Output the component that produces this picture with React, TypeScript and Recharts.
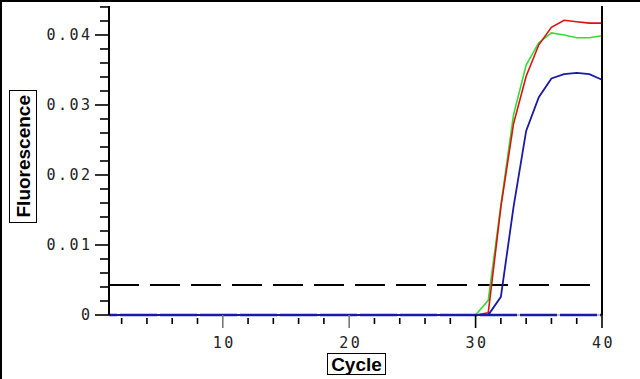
import React from 'react';
import { LineChart, Line, XAxis, YAxis, ReferenceLine } from 'recharts';

const cycles = [1, 2, 3, 4, 5, 6, 7, 8, 9, 10, 11, 12, 13, 14, 15, 16, 17, 18, 19, 20, 21, 22, 23, 24, 25, 26, 27, 28, 29, 30, 31, 32, 33, 34, 35, 36, 37, 38, 39, 40];
const redValues = [0, 0, 0, 0, 0, 0, 0, 0, 0, 0, 0, 0, 0, 0, 0, 0, 0, 0, 0, 0, 0, 0, 0, 0, 0, 0, 0, 0, 0, 0, 0.0003, 0.0154, 0.0273, 0.0341, 0.0386, 0.0411, 0.0421, 0.0419, 0.0417, 0.0417];
const greenValues = [0, 0, 0, 0, 0, 0, 0, 0, 0, 0, 0, 0, 0, 0, 0, 0, 0, 0, 0, 0, 0, 0, 0, 0, 0, 0, 0, 0, 0, 0, 0.0021, 0.0157, 0.0286, 0.0357, 0.0389, 0.0403, 0.04, 0.0396, 0.0396, 0.0399];
const blueValues = [0, 0, 0, 0, 0, 0, 0, 0, 0, 0, 0, 0, 0, 0, 0, 0, 0, 0, 0, 0, 0, 0, 0, 0, 0, 0, 0, 0, 0, 0, 0, 0.0026, 0.0154, 0.0263, 0.0311, 0.0338, 0.0344, 0.0346, 0.0344, 0.0336];
const thresholdValue = 0.0043;

const leftTicks = [0, 0.002, 0.004, 0.006, 0.008, 0.01, 0.012, 0.014, 0.016, 0.018, 0.02, 0.022, 0.024, 0.026, 0.028, 0.03, 0.032, 0.034, 0.036, 0.038, 0.04, 0.042, 0.044];
const leftLabels = ['0', '0.01', '0.02', '0.03', '0.04'];
const rightTicks = [0, 0.2, 0.4, 0.6, 0.8, 1, 1.2, 1.4, 1.6, 1.8, 2, 2.2, 2.4, 2.6, 2.8, 3, 3.2, 3.4, 3.6, 3.8, 4, 4.2, 4.4, 4.6, 4.8, 5];
const rightLabels = ['0', '1', '2', '3', '4', '5'];
const xTicks = [2, 4, 6, 8, 10, 12, 14, 16, 18, 20, 22, 24, 26, 28, 30, 32, 34, 36, 38, 40];
const xLabels = ['10', '20', '30', '40'];

const data = cycles.map((c, i) => ({ cycle: c, red: redValues[i], green: greenValues[i], blue: blueValues[i] }));

const tickFont = { fontFamily: '"DejaVu Sans Mono", monospace', fontSize: 15, fill: '#222', letterSpacing: 2.5 } as const;

const LeftTick = (props: any) => {
  const { x, y, index } = props;
  const major = index % 5 === 0;
  return (
    <g>
      <line x1={x - (major ? 14 : 9)} x2={x} y1={y} y2={y} stroke="#000" strokeWidth={1.6} />
      {major && (
        <text x={x - 16.5} y={y} textAnchor="end" dominantBaseline="central" style={tickFont}>
          {leftLabels[index / 5]}
        </text>
      )}
    </g>
  );
};

const RightTick = (props: any) => {
  const { x, y, index } = props;
  const major = index % 5 === 0;
  return (
    <g>
      <line x1={x} x2={x + (major ? 11 : 7)} y1={y} y2={y} stroke="#000" strokeWidth={1.6} />
      {major && (
        <text x={x + 19} y={y} textAnchor="start" dominantBaseline="central" style={tickFont}>
          {rightLabels[index / 5]}
        </text>
      )}
    </g>
  );
};

const BottomTick = (props: any) => {
  const { x, y, payload } = props;
  const v = payload.value;
  const major = v % 10 === 0;
  return (
    <g>
      <line x1={x} x2={x} y1={y + (major ? 0 : 3)} y2={y + (major ? 13 : 9)} stroke={major && v < 30 ? '#777' : '#000'} strokeWidth={1.6} />
      {major && (
        <text x={x + 1.5} y={y + 28} textAnchor="middle" dominantBaseline="central" style={tickFont}>
          {xLabels[v / 10 - 1]}
        </text>
      )}
    </g>
  );
};

export default function App() {
  return (
    <div style={{ position: 'absolute', left: 0, top: 0, width: 640, height: 379, background: '#fff', overflow: 'hidden' }}>
      <div style={{ position: 'absolute', left: 0, top: 0, width: 640, height: 379, borderTop: '2px solid #000', borderLeft: '2px solid #000', boxSizing: 'border-box' }} />
      <LineChart width={640} height={379} data={data} margin={{ top: 6, right: 8, bottom: 34, left: 0 }}>
        <XAxis
          dataKey="cycle"
          type="number"
          domain={[1, 40]}
          ticks={xTicks}
          tickSize={0}
          tickMargin={0}
          tick={<BottomTick />}
          height={30}
          axisLine={false}
          tickLine={false}
          interval={0}
        />
        <YAxis
          yAxisId="left"
          orientation="left"
          type="number"
          domain={[0, 0.04414]}
          ticks={leftTicks}
          width={109}
          tickSize={0}
          tickMargin={0}
          tick={<LeftTick />}
          tickLine={false}
          axisLine={{ stroke: '#000', strokeWidth: 2 }}
          interval={0}
        />
        <YAxis
          yAxisId="right"
          orientation="right"
          type="number"
          domain={[0, 5.15]}
          ticks={rightTicks}
          width={30}
          tickSize={0}
          tickMargin={0}
          tick={<RightTick />}
          tickLine={false}
          axisLine={{ stroke: '#000', strokeWidth: 2 }}
          interval={0}
        />
        <ReferenceLine yAxisId="left" y={0} stroke="#aaa" strokeWidth={1.5} />
        <ReferenceLine yAxisId="left" y={thresholdValue} stroke="#000" strokeWidth={2} strokeDasharray="30 11" />
        <Line yAxisId="left" dataKey="green" stroke="#33dd33" strokeWidth={1.6} dot={false} isAnimationActive={false} type="linear" />
        <Line yAxisId="left" dataKey="red" stroke="#dd1111" strokeWidth={1.6} dot={false} isAnimationActive={false} type="linear" />
        <Line yAxisId="left" dataKey="blue" stroke="#1a1aa8" strokeWidth={1.8} dot={false} isAnimationActive={false} type="linear" />
        <ReferenceLine yAxisId="left" y={0} stroke="#1a1aa8" strokeWidth={2.5} strokeDasharray="37 3" strokeDashoffset={29} />
      </LineChart>
      <div style={{ position: 'absolute', left: 9, top: 90, width: 28, height: 133, border: '1.5px solid #000', boxSizing: 'border-box', display: 'flex', alignItems: 'center', justifyContent: 'center', background: '#fff' }}>
        <span style={{ writingMode: 'vertical-rl', transform: 'rotate(180deg)', fontFamily: '"Liberation Sans", Arial, sans-serif', fontWeight: 'bold', fontSize: 19, lineHeight: 1 }}>Fluorescence</span>
      </div>
      <div style={{ position: 'absolute', left: 327, top: 353, width: 59, height: 22, border: '1.5px solid #000', boxSizing: 'border-box', display: 'flex', alignItems: 'center', justifyContent: 'center', background: '#fff' }}>
        <span style={{ fontFamily: '"Liberation Sans", Arial, sans-serif', fontWeight: 'bold', fontSize: 19, lineHeight: 1 }}>Cycle</span>
      </div>
    </div>
  );
}
